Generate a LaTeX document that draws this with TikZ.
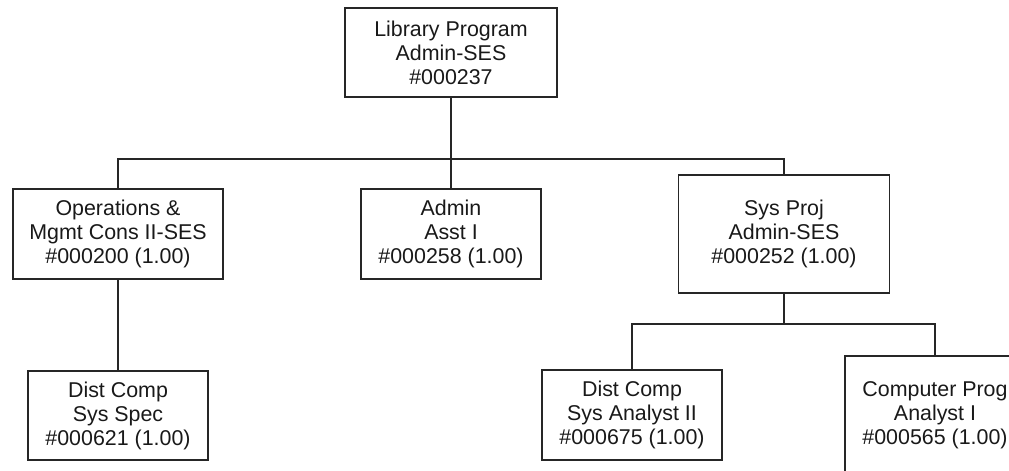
\documentclass[tikz,border=0pt]{standalone}
\usepackage{fontspec}
\setmainfont{Liberation Sans}
\begin{document}
\begin{tikzpicture}[x=1pt,y=1pt,
  posbox/.style={draw=black!85, line width=1.8pt, inner sep=0pt, align=center,
    font=\fontsize{21.4}{24}\selectfont, text=black!90},
  link/.style={draw=black!85, line width=1.6pt}]
\useasboundingbox (0,0) rectangle (1009,-471);
\clip (0,0) rectangle (1009,-471);

% positions
\node[posbox, minimum width=212, minimum height=89] (lib) at (451,-52.5)
  {Library Program\\Admin-SES\\\#000237};
\node[posbox, minimum width=210, minimum height=90] (ops) at (118,-234)
  {Operations \&\\Mgmt Cons II-SES\\\#000200 (1.00)};
\node[posbox, minimum width=180, minimum height=90] (asst) at (451,-234)
  {Admin\\Asst I\\\#000258 (1.00)};
\node[posbox, minimum width=211, minimum height=118] (sysproj) at (784,-234)
  {Sys Proj\\Admin-SES\\\#000252 (1.00)};
\node[posbox, minimum width=180, minimum height=89] (spec) at (118,-415.5)
  {Dist Comp\\Sys Spec\\\#000621 (1.00)};
\node[posbox, minimum width=180, minimum height=90] (analyst) at (632,-415)
  {Dist Comp\\Sys Analyst II\\\#000675 (1.00)};
\node[posbox, minimum width=180, minimum height=118] (prog) at (935,-415)
  {Computer Prog\\Analyst I\\\#000565 (1.00)};

% junctions of the reporting lines
\coordinate (busA) at (451,-159);
\coordinate (busB) at (784,-324);

% reporting lines
\draw[link] (lib.south) -- (busA);
\draw[link] (busA) -| (ops.north);
\draw[link] (busA) -| (sysproj.north);
\draw[link] (busA) -- (asst.north);
\draw[link] (ops.south) -- (spec.north);
\draw[link] (sysproj.south) -- (busB);
\draw[link] (busB) -| (analyst.north);
\draw[link] (busB) -| (prog.north);
\end{tikzpicture}
\end{document}
